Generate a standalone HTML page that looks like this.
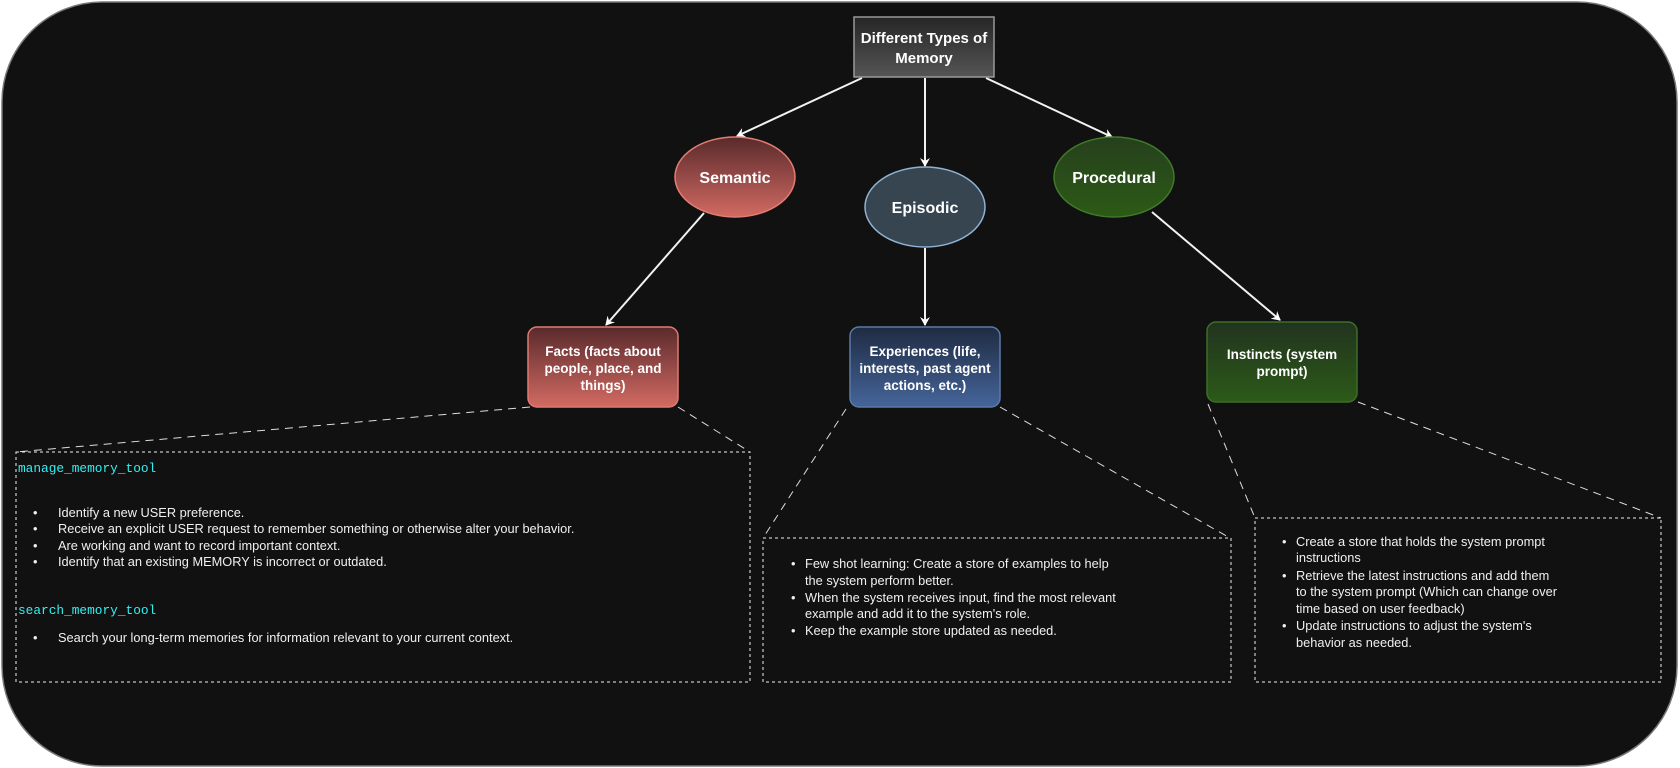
<!DOCTYPE html>
<html><head><meta charset="utf-8"><style>
html,body{margin:0;padding:0;background:#fff;}
svg{display:block}
text{font-family:"Liberation Sans",Arial,sans-serif;}
.m{font-family:"Liberation Mono","DejaVu Sans Mono",monospace;font-size:12.8px;fill:#f0f0f0;}
.c{fill:#33f0f0;}
.n{font-weight:bold;fill:#fff;text-anchor:middle;}
</style></head><body>
<svg width="1680" height="768" viewBox="0 0 1680 768" xmlns="http://www.w3.org/2000/svg">
<defs>
<linearGradient id="gt" x1="0" y1="0" x2="0" y2="1"><stop offset="0" stop-color="#262626"/><stop offset="1" stop-color="#555"/></linearGradient>
<linearGradient id="gr" x1="0" y1="0" x2="0" y2="1"><stop offset="0" stop-color="#5a2a2c"/><stop offset="1" stop-color="#d26a62"/></linearGradient>
<linearGradient id="gb" x1="0" y1="0" x2="0" y2="1"><stop offset="0" stop-color="#1f2b42"/><stop offset="1" stop-color="#45659a"/></linearGradient>
<linearGradient id="gg" x1="0" y1="0" x2="0" y2="1"><stop offset="0" stop-color="#22331f"/><stop offset="1" stop-color="#2c5a18"/></linearGradient>
<linearGradient id="gpe" x1="0" y1="0" x2="0" y2="1"><stop offset="0" stop-color="#26401d"/><stop offset="1" stop-color="#2c5a16"/></linearGradient>
<marker id="a" markerWidth="10" markerHeight="10" refX="8" refY="5" orient="auto" markerUnits="userSpaceOnUse"><path d="M0,0 L9,5 L0,10 L3,5 Z" fill="#fff"/></marker>
</defs>
<rect x="2" y="2" width="1675" height="764" rx="100" fill="#111" stroke="#777" stroke-width="1.5"/>

<!-- arrows -->
<g stroke="#f2f2f2" stroke-width="2" fill="none" marker-end="url(#a)">
<line x1="862" y1="78" x2="737" y2="136"/>
<line x1="925" y1="78" x2="925" y2="166"/>
<line x1="986" y1="78" x2="1112" y2="137"/>
<line x1="704" y1="213" x2="606" y2="325"/>
<line x1="925" y1="248" x2="925" y2="325"/>
<line x1="1152" y1="212" x2="1280" y2="320"/>
</g>
<!-- dashed callout lines -->
<g stroke="#ddd" stroke-width="1" stroke-dasharray="8,6" fill="none">
<line x1="530" y1="407" x2="16" y2="452"/>
<line x1="678" y1="407" x2="750" y2="452"/>
<line x1="846" y1="409" x2="763" y2="538"/>
<line x1="1000" y1="407" x2="1230" y2="538"/>
<line x1="1208" y1="404" x2="1255" y2="518"/>
<line x1="1358" y1="402" x2="1661" y2="518"/>
</g>

<!-- title -->
<rect x="854" y="17" width="140" height="60" fill="url(#gt)" stroke="#999" stroke-width="1.5"/>
<text class="n" x="924" y="43" font-size="15">Different Types of</text>
<text class="n" x="924" y="63" font-size="15">Memory</text>

<!-- ellipses -->
<ellipse cx="735" cy="177" rx="60" ry="40" fill="url(#gr)" stroke="#e47c72" stroke-width="1.5"/>
<text class="n" x="735" y="183" font-size="16">Semantic</text>
<ellipse cx="925" cy="207" rx="60" ry="40" fill="#364550" stroke="#90b2d2" stroke-width="1.5"/>
<text class="n" x="925" y="213" font-size="16">Episodic</text>
<ellipse cx="1114" cy="177" rx="60" ry="40" fill="url(#gpe)" stroke="#3e7a2a" stroke-width="1.5"/>
<text class="n" x="1114" y="183" font-size="16">Procedural</text>

<!-- boxes -->
<rect x="528" y="327" width="150" height="80" rx="9" fill="url(#gr)" stroke="#e07a70" stroke-width="1.5"/>
<text class="n" x="603" y="356" font-size="13.5">Facts (facts about</text>
<text class="n" x="603" y="373" font-size="13.5">people, place, and</text>
<text class="n" x="603" y="390" font-size="13.5">things)</text>
<rect x="850" y="327" width="150" height="80" rx="9" fill="url(#gb)" stroke="#5a7aa8" stroke-width="1.5"/>
<text class="n" x="925" y="356" font-size="13.5">Experiences (life,</text>
<text class="n" x="925" y="373" font-size="13.5">interests, past agent</text>
<text class="n" x="925" y="390" font-size="13.5">actions, etc.)</text>
<rect x="1207" y="322" width="150" height="80" rx="9" fill="url(#gg)" stroke="#3c6e28" stroke-width="1.5"/>
<text class="n" x="1282" y="359" font-size="13.5">Instincts (system</text>
<text class="n" x="1282" y="376" font-size="13.5">prompt)</text>

<!-- dashed boxes -->
<g fill="none" stroke="#eee" stroke-width="1" stroke-dasharray="3,3">
<rect x="16" y="452" width="734" height="230"/>
<rect x="763" y="538" width="468" height="144"/>
<rect x="1255" y="518" width="406" height="164"/>
</g>

<!-- box1 text -->
<text class="m c" x="18" y="472">manage_memory_tool</text>
<g class="m">
<text x="33" y="517">•</text><text x="58" y="517">Identify a new USER preference.</text>
<text x="33" y="533">•</text><text x="58" y="533">Receive an explicit USER request to remember something or otherwise alter your behavior.</text>
<text x="33" y="550">•</text><text x="58" y="550">Are working and want to record important context.</text>
<text x="33" y="566">•</text><text x="58" y="566">Identify that an existing MEMORY is incorrect or outdated.</text>
</g>
<text class="m c" x="18" y="614">search_memory_tool</text>
<g class="m">
<text x="33" y="642">•</text><text x="58" y="642">Search your long-term memories for information relevant to your current context.</text>
</g>

<!-- box2 text -->
<g class="m">
<text x="791" y="568">•</text><text x="805" y="568">Few shot learning: Create a store of examples to help</text>
<text x="805" y="585">the system perform better.</text>
<text x="791" y="602">•</text><text x="805" y="602">When the system receives input, find the most relevant</text>
<text x="805" y="618">example and add it to the system's role.</text>
<text x="791" y="635">•</text><text x="805" y="635">Keep the example store updated as needed.</text>
</g>

<!-- box3 text -->
<g class="m">
<text x="1282" y="546">•</text><text x="1296" y="546">Create a store that holds the system prompt</text>
<text x="1296" y="562">instructions</text>
<text x="1282" y="580">•</text><text x="1296" y="580">Retrieve the latest instructions and add them</text>
<text x="1296" y="596">to the system prompt (Which can change over</text>
<text x="1296" y="613">time based on user feedback)</text>
<text x="1282" y="630">•</text><text x="1296" y="630">Update instructions to adjust the system's</text>
<text x="1296" y="647">behavior as needed.</text>
</g>
</svg>
</body></html>
